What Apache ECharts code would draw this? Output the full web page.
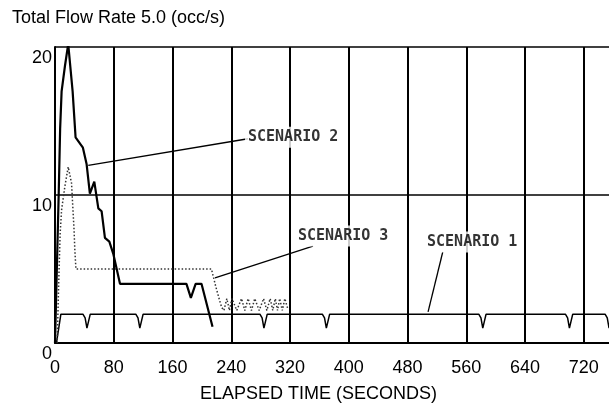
<!DOCTYPE html>
<html>
<head>
<meta charset="utf-8">
<script src="https://cdn.jsdelivr.net/npm/echarts@6/dist/echarts.min.js"></script>
<style>
    html, body { margin: 0; padding: 0; background: #fff; }
    #chart { width: 609px; height: 408px; }
</style>
</head>
<body>
<div id="chart"></div>
<script>
// elapsed time (s) / flow rate points
const scenario1 = [
    [2, 0], [8, 1.95],
    [38, 1.95], [41, 1.7], [43.5, 1.0], [44.5, 1.0], [48, 1.95],
    [110, 1.95], [113, 1.7], [115.5, 1.0], [116.5, 1.0], [120, 1.95],
    [279, 1.95], [282, 1.7], [284.5, 1.0], [285.5, 1.0], [289, 1.95],
    [364, 1.95], [367, 1.7], [369.5, 1.0], [370.5, 1.0], [374, 1.95],
    [577, 1.95], [580, 1.7], [582.5, 1.0], [583.5, 1.0], [587, 1.95],
    [695, 1.95], [698, 1.7], [700.5, 1.0], [701.5, 1.0], [705, 1.95],
    [749, 1.95], [752, 1.7], [754.5, 1.0], [755.5, 1.0], [759, 1.95], [800, 1.95]
];
const scenario2 = [
    [0, 0], [2, 0], [5, 10], [7, 14.5], [9, 17], [13.5, 18.7], [18, 20.2],
    [24, 17], [28, 13.9], [38, 13.2], [43, 12.1], [47.5, 10.1], [53.5, 10.9],
    [59, 9.1], [63.5, 8.9], [68, 7.1], [74, 6.85], [79.5, 6.0], [88.5, 4.0],
    [179, 4.0], [185, 3.05], [191.5, 4.0], [199.5, 4.0], [214.5, 1.1]
];
const scenario3 = [
    [3, 0], [5, 4], [7, 7.4], [9, 9], [13.5, 10.6], [18, 11.9], [22.5, 10.8],
    [25, 8.5], [26, 7.6], [27, 6.3], [28.5, 5.0], [213, 5.0],
    [219, 3.8], [224, 2.9], [227, 2.4], [230, 2.2], [234, 3.0], [237.5, 2.2],
    [241, 3.0], [247.5, 2.2], [254, 3.0], [258.5, 2.2], [263, 3.0], [267.5, 2.2],
    [272, 3.0], [278, 2.2], [284, 3.0], [288.5, 2.2], [293, 3.0], [296.5, 2.2],
    [300, 3.0], [303, 2.2], [306, 3.0], [309.5, 2.2], [313, 3.0], [317, 2.3]
];

// callouts: label anchor [t, v, text] and leader line ends
const noteLabels = [
    [258.7, 13.9, 'SCENARIO 2'],
    [326.8, 7.23, 'SCENARIO 3'],
    [502.5, 6.82, 'SCENARIO 1']
];
const noteLeaders = [
    [[45.3, 12.0], [262.8, 13.8]],
    [[217.9, 4.4], [351.3, 6.55]],
    [[508, 2.1], [528, 6.15]]
];

const xTicks = { min: 0, max: 800, interval: 80 };
const yTicks = { min: 0, max: 20, interval: 10 };

const font = 'Liberation Sans, Arial, sans-serif';

var chart = echarts.init(document.getElementById('chart'), null, { renderer: 'canvas' });

var option = {
    backgroundColor: '#fff',
    animation: false,
    title: [
        {
            text: 'Total Flow Rate 5.0 (occ/s)',
            left: 12, top: 9, padding: 0,
            textStyle: { fontFamily: font, fontSize: 18, fontWeight: 'normal', color: '#000' }
        },
        {
            text: 'ELAPSED TIME (SECONDS)',
            left: 200, top: 385, padding: 0,
            textStyle: { fontFamily: font, fontSize: 18, fontWeight: 'normal', color: '#000' }
        }
    ],
    grid: {
        left: 55,
        top: 47,
        width: 587.5,
        height: 296,
        containLabel: false,
        outerBoundsMode: 'none'
    },
    xAxis: {
        type: 'value',
        min: xTicks.min,
        max: xTicks.max,
        interval: xTicks.interval,
        axisLine: { lineStyle: { color: '#000', width: 2 } },
        axisTick: { show: false },
        axisLabel: { fontFamily: font, fontSize: 18, color: '#000', margin: 16 },
        splitLine: { lineStyle: { color: '#000', width: 2 } }
    },
    yAxis: {
        type: 'value',
        min: yTicks.min,
        max: yTicks.max,
        interval: yTicks.interval,
        axisLine: { show: true, lineStyle: { color: '#000', width: 2 } },
        axisTick: { show: false },
        axisLabel: {
            fontFamily: font, fontSize: 18, color: '#000', margin: 3,
            verticalAlign: 'top', padding: [2, 0, 0, 0]
        },
        splitLine: { lineStyle: { color: '#000', width: 1.6 } }
    },
    series: [
        {
            name: 'Scenario 1',
            type: 'line',
            data: scenario1,
            symbol: 'none',
            lineStyle: { color: '#000', width: 1.5 },
            z: 3
        },
        {
            name: 'Scenario 3',
            type: 'line',
            data: scenario3,
            symbol: 'none',
            lineStyle: { color: '#333', width: 1.5, type: [1.5, 2] },
            z: 3
        },
        {
            name: 'Scenario 2',
            type: 'line',
            data: scenario2,
            symbol: 'none',
            lineStyle: { color: '#000', width: 2.2 },
            z: 4
        },
        {
            name: 'notes',
            type: 'scatter',
            data: noteLabels,
            symbolSize: 0,
            silent: true,
            z: 6,
            label: {
                show: true,
                position: 'right',
                distance: 0,
                formatter: p => p.data[2],
                fontFamily: 'DejaVu Sans Mono',
                fontWeight: 'bold',
                fontSize: 15,
                color: '#000',
                backgroundColor: '#fff',
                padding: [3, 3]
            },
            markLine: {
                silent: true,
                symbol: ['none', 'none'],
                label: { show: false },
                lineStyle: { color: '#000', width: 1.3, type: 'solid' },
                data: noteLeaders.map(l => [{ coord: l[0] }, { coord: l[1] }])
            }
        }
    ]
};

chart.setOption(option);
</script>
</body>
</html>
